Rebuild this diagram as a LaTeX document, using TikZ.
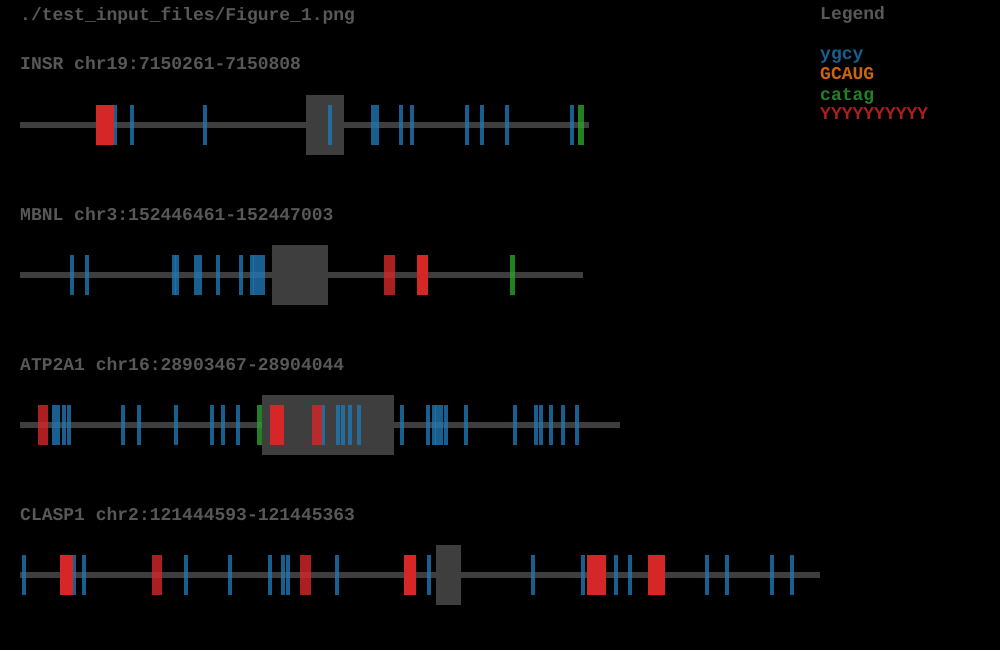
\documentclass[tikz,border=0pt]{standalone}
\usepackage{fontspec}
\setmonofont{Liberation Mono}
\usetikzlibrary{positioning}

\definecolor{txtgray}{RGB}{88,88,88}
\definecolor{trackgray}{RGB}{62,62,62}
\definecolor{tabblue}{RGB}{31,119,180}
\definecolor{taborange}{RGB}{255,127,14}
\definecolor{tabgreen}{RGB}{44,160,44}
\definecolor{tabred}{RGB}{214,39,40}

\begin{document}
\begin{tikzpicture}[x=1pt,y=-1pt,
    lbl/.style={anchor=base west,inner sep=0pt,font=\ttfamily\bfseries\fontsize{18}{20}\selectfont},
    track/.style={draw=trackgray,line width=5.5pt},
    exonbox/.style={fill=trackgray},
    ygcy/.style={fill=tabblue,opacity=.8},
    gcaug/.style={fill=taborange,opacity=.8},
    catag/.style={fill=tabgreen,opacity=.8},
    yyy/.style={fill=tabred,opacity=.8},
    yyyfull/.style={fill=tabred}]
    \fill[black] (0,0) rectangle (1000,650);
    \useasboundingbox (0,0) rectangle (1000,650);

    \node[lbl,text=txtgray] (fname) at (20,21) {./test\_input\_files/Figure\_1.png};
    \node[lbl,text=txtgray] (legend) at (820,20) {Legend};
    \node[lbl,text=tabblue!80!black] (leg1) at (820,60) {ygcy};
    \node[lbl,text=taborange!80!black] (leg2) at (820,80) {GCAUG};
    \node[lbl,text=tabgreen!80!black] (leg3) at (820,100) {catag};
    \node[lbl,text=tabred!80!black] (leg4) at (820,120) {YYYYYYYYYY};

    % INSR
    \node[lbl,text=txtgray] (insr) at (20,70) {INSR chr19:7150261-7150808};
    \draw[track] (20,125) -- (588.5,125);
    \fill[exonbox] (306,95) rectangle (343.5,155);
    \fill[yyyfull] (96,105) rectangle (113.5,145);
    \foreach \a/\b in {114/116.5,130/134,203/207,328/332,371/375,375/379,399/403,410/414,
                      465/469,479.5/483.5,504.5/508.5,570/574}
        \fill[ygcy] (\a,105) rectangle (\b,145);
    \fill[catag] (578,105) rectangle (583.5,145);

    % MBNL
    \node[lbl,text=txtgray] (mbnl) at (20,220) {MBNL chr3:152446461-152447003};
    \draw[track] (20,275) -- (583,275);
    \fill[exonbox] (272,245) rectangle (328,305);
    \foreach \a/\b in {69.5/73.5,85/89,171.5/175.5,174.5/178.5,194/198,198/202,216/220,239/243,
                      249.5/253.5,253/257,257/261,261/265}
        \fill[ygcy] (\a,255) rectangle (\b,295);
    \fill[yyy] (384,255) rectangle (394.5,295);
    \fill[yyyfull] (416.5,255) rectangle (427.5,295);
    \fill[catag] (510,255) rectangle (514.5,295);

    % ATP2A1
    \node[lbl,text=txtgray] (atp2a1) at (20,370) {ATP2A1 chr16:28903467-28904044};
    \draw[track] (20,425) -- (620,425);
    \fill[exonbox] (261.5,395) rectangle (393.5,455);
    \foreach \a/\b in {37.5/47.5,311.5/321.5}
        \fill[yyy] (\a,405) rectangle (\b,445);
    \fill[yyyfull] (270,405) rectangle (283.5,445);
    \foreach \a/\b in {52/56,55.5/59.5,61.5/65.5,66.5/70.5,120.5/124.5,137/141,173.5/177.5,
                      210/214,221/225,235.5/239.5,321.5/325,336/340,341/345,348/352,357/361,
                      400/404,425.5/429.5,432/436,435/439,438.5/442.5,443.5/447.5,464/468,
                      513/517,533.5/537.5,539/543,549/553,560.5/564.5,575/579}
        \fill[ygcy] (\a,405) rectangle (\b,445);
    \fill[catag] (256.5,405) rectangle (261.5,445);

    % CLASP1
    \node[lbl,text=txtgray] (clasp1) at (20,520) {CLASP1 chr2:121444593-121445363};
    \draw[track] (20,575) -- (820,575);
    \fill[exonbox] (436,545) rectangle (461,605);
    \foreach \a/\b in {60/72.5,404/415.5,587/606,648/665}
        \fill[yyyfull] (\a,555) rectangle (\b,595);
    \foreach \a/\b in {151.5/162,300/310.5}
        \fill[yyy] (\a,555) rectangle (\b,595);
    \foreach \a/\b in {22/26,72.5/76,82/86,184/188,227.5/231.5,268/272,280.5/284.5,286/290,
                      334.5/338.5,427/431,530.5/534.5,581/585,613.5/617.5,628/632,705/709,
                      724.5/728.5,770/774,790/794}
        \fill[ygcy] (\a,555) rectangle (\b,595);
\end{tikzpicture}
\end{document}
